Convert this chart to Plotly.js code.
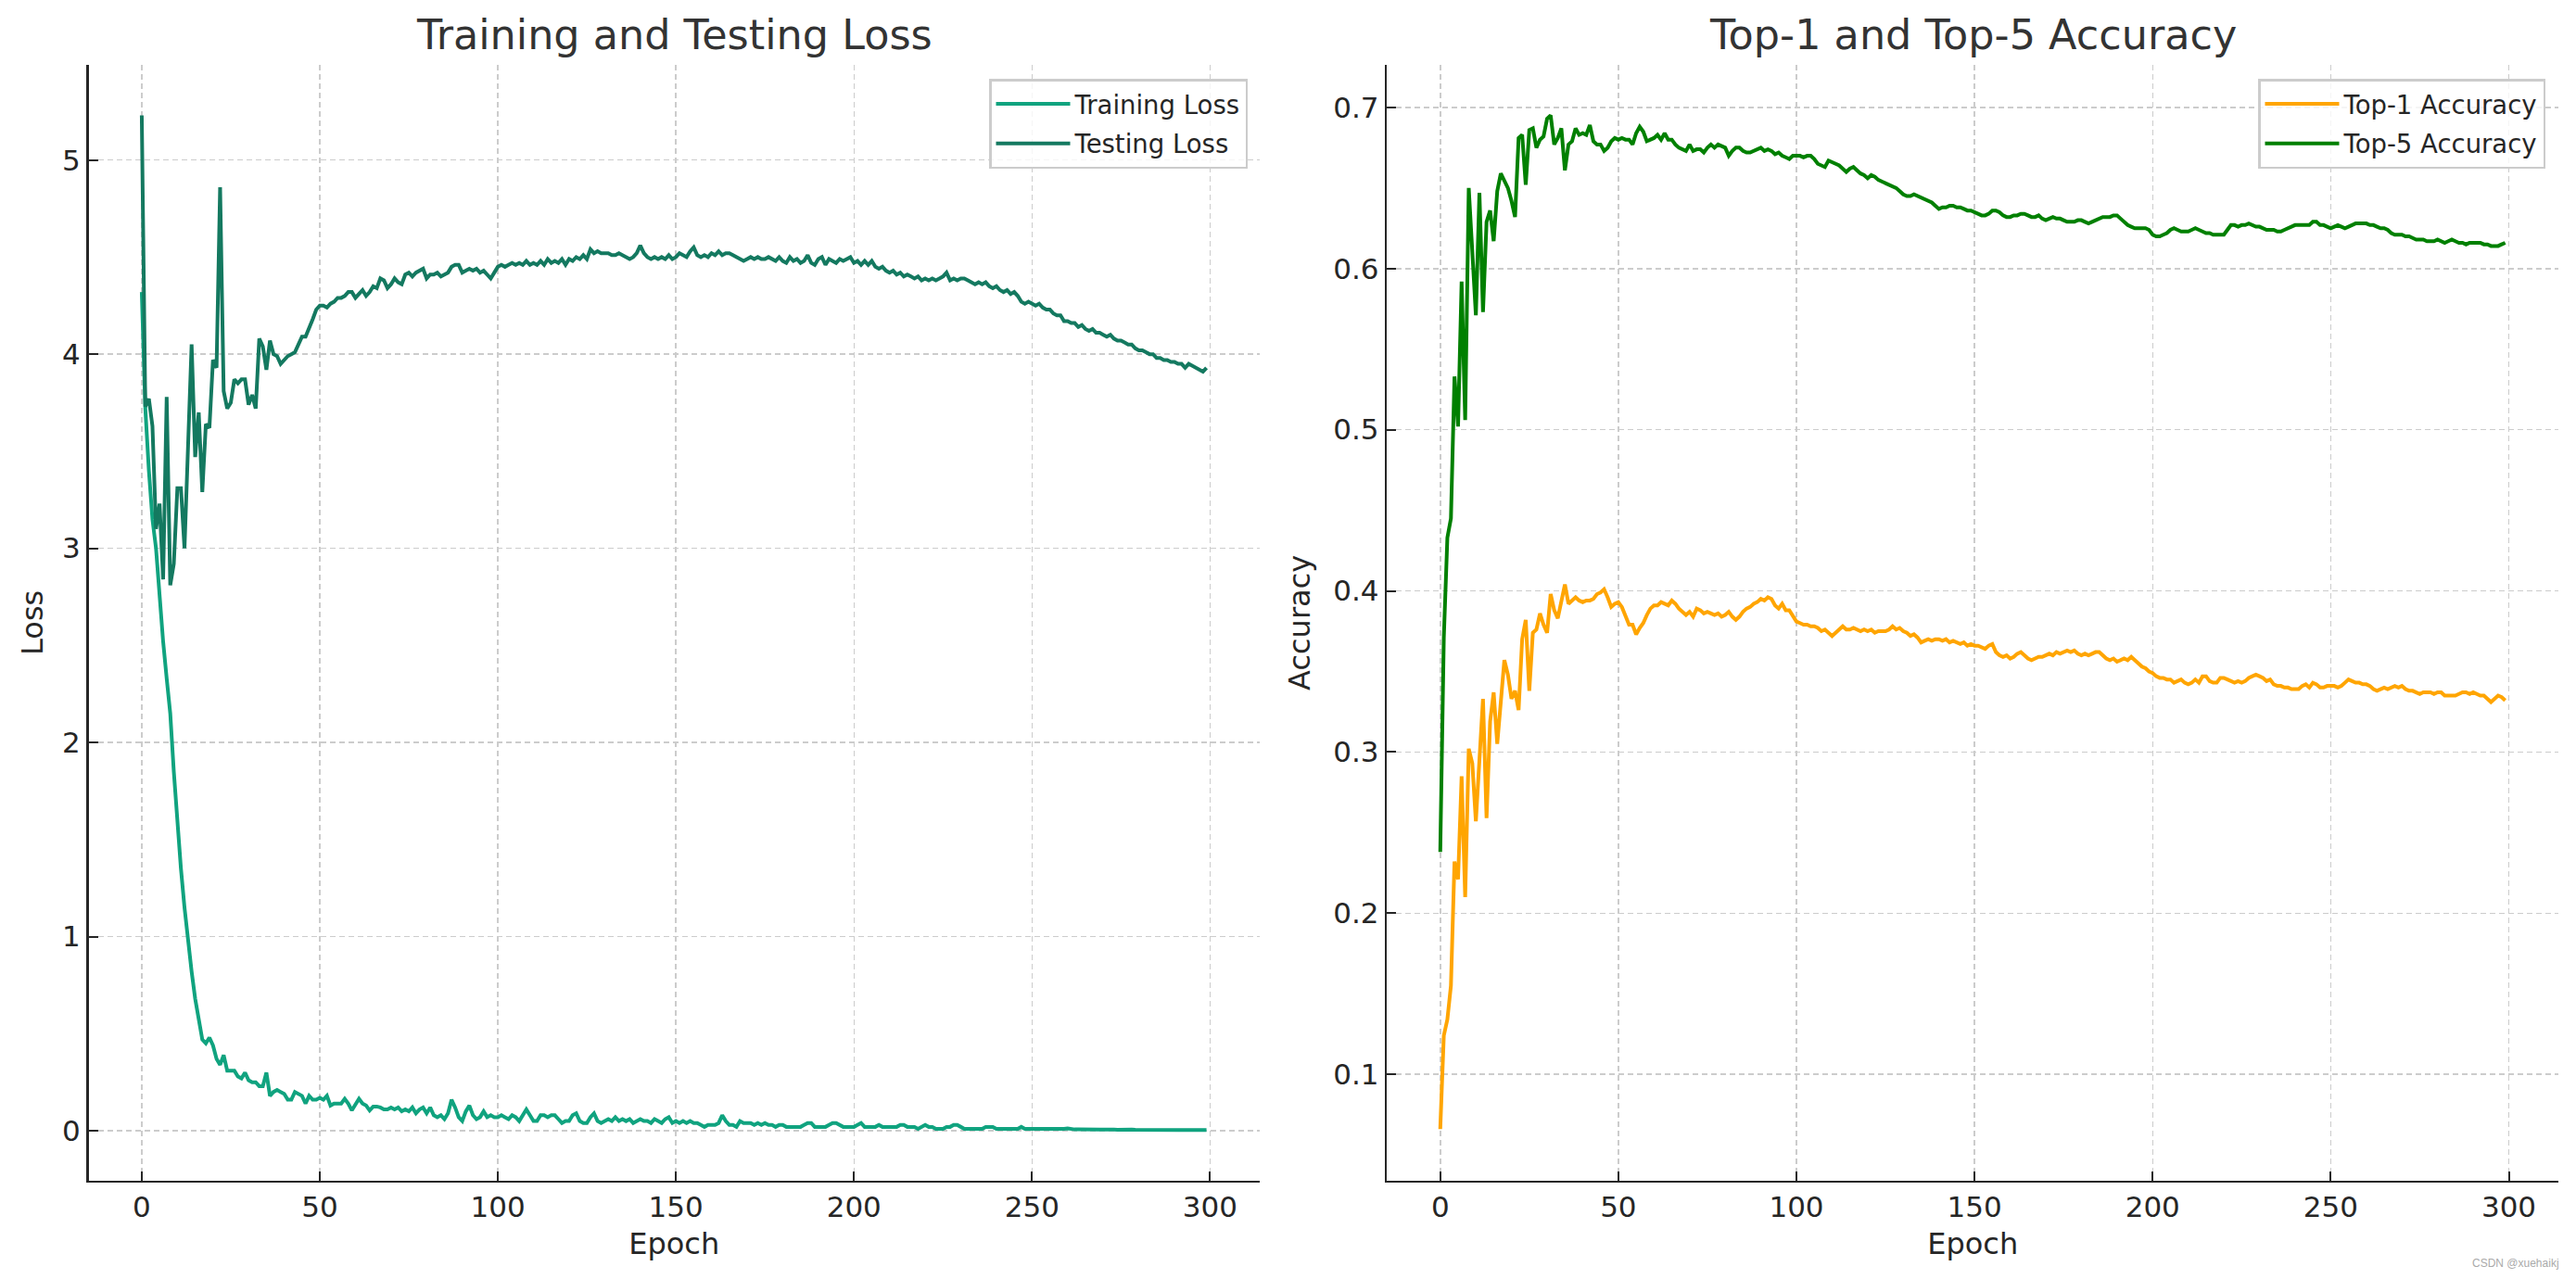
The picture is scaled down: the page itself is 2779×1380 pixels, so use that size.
<!DOCTYPE html>
<html>
<head>
<meta charset="utf-8">
<script src="https://cdn.plot.ly/plotly-3.0.1.min.js"></script>
<style>html,body{margin:0;padding:0;background:#fff;}</style>
</head>
<body>
<div id="chart" style="width:2779px;height:1380px;"></div>
<script>
// ---------------- DATA ----------------
const chartTitles = ["Training and Testing Loss", "Top-1 and Top-5 Accuracy"];
const seriesNames = ["Training Loss", "Testing Loss", "Top-1 Accuracy", "Top-5 Accuracy"];
const xTickVals = [0, 50, 100, 150, 200, 250, 300];
const lossTickVals = [0, 1, 2, 3, 4, 5];
const accTickVals = [0.1, 0.2, 0.3, 0.4, 0.5, 0.6, 0.7];

const trainingLoss = [
 4.32, 3.72, 3.40, 3.15, 3.00, 2.75, 2.52, 2.33, 2.15, 1.85,
 1.58, 1.35, 1.15, 0.97, 0.82, 0.68, 0.56, 0.47, 0.45, 0.48,
 0.44, 0.37, 0.34, 0.39, 0.31, 0.31, 0.31, 0.28, 0.27, 0.30,
 0.26, 0.25, 0.25, 0.23, 0.23, 0.30, 0.18, 0.20, 0.21, 0.20,
 0.19, 0.16, 0.16, 0.20, 0.19, 0.18, 0.14, 0.18, 0.16, 0.16,
 0.17, 0.16, 0.18, 0.13, 0.14, 0.14, 0.14, 0.165, 0.14, 0.105,
 0.135, 0.165, 0.14, 0.13, 0.105, 0.125, 0.125, 0.12, 0.11, 0.11,
 0.12, 0.11, 0.12, 0.10, 0.11, 0.10, 0.12, 0.09, 0.11, 0.12,
 0.09, 0.12, 0.08, 0.07, 0.08, 0.06, 0.09, 0.16, 0.12, 0.07,
 0.05, 0.10, 0.13, 0.08, 0.06, 0.07, 0.10, 0.07, 0.08, 0.07,
 0.07, 0.08, 0.07, 0.06, 0.08, 0.07, 0.05, 0.08, 0.11, 0.08,
 0.05, 0.05, 0.08, 0.08, 0.07, 0.08, 0.08, 0.06, 0.04, 0.05,
 0.05, 0.08, 0.09, 0.05, 0.04, 0.04, 0.07, 0.09, 0.05, 0.04,
 0.05, 0.06, 0.05, 0.07, 0.05, 0.06, 0.05, 0.06, 0.04, 0.05,
 0.06, 0.05, 0.05, 0.04, 0.06, 0.05, 0.04, 0.06, 0.07, 0.04,
 0.05, 0.04, 0.05, 0.04, 0.05, 0.04, 0.04, 0.03, 0.02, 0.03,
 0.03, 0.03, 0.04, 0.08, 0.05, 0.03, 0.03, 0.02, 0.05, 0.04,
 0.04, 0.04, 0.03, 0.04, 0.03, 0.04, 0.03, 0.03, 0.02, 0.03,
 0.03, 0.02, 0.02, 0.02, 0.02, 0.02, 0.03, 0.04, 0.04, 0.02,
 0.02, 0.02, 0.02, 0.03, 0.04, 0.04, 0.03, 0.02, 0.02, 0.02,
 0.02, 0.03, 0.04, 0.02, 0.02, 0.02, 0.02, 0.03, 0.02, 0.02,
 0.02, 0.02, 0.02, 0.03, 0.03, 0.02, 0.02, 0.02, 0.01, 0.02,
 0.03, 0.02, 0.02, 0.01, 0.01, 0.01, 0.02, 0.02, 0.03, 0.03,
 0.02, 0.01, 0.01, 0.01, 0.01, 0.01, 0.01, 0.02, 0.02, 0.02,
 0.01, 0.01, 0.01, 0.01, 0.01, 0.01, 0.01, 0.02, 0.01, 0.01,
 0.01, 0.008, 0.01, 0.008, 0.009, 0.008, 0.01, 0.008, 0.007, 0.01,
 0.012, 0.008, 0.007, 0.008, 0.007, 0.006, 0.007, 0.006, 0.007, 0.006,
 0.006, 0.007, 0.006, 0.006, 0.005, 0.006, 0.006, 0.005, 0.006, 0.005,
 0.005, 0.005, 0.006, 0.005, 0.005, 0.005, 0.005, 0.004, 0.005, 0.005,
 0.005, 0.004, 0.005, 0.004, 0.004, 0.005, 0.004, 0.004, 0.004, 0.004
];

const testingLoss = [
 5.23, 3.73, 3.77, 3.63, 3.10, 3.23, 2.84, 3.78, 2.81, 2.92,
 3.31, 3.31, 3.00, 3.60, 4.05, 3.47, 3.70, 3.29, 3.64, 3.62,
 3.97, 3.93, 4.86, 3.81, 3.72, 3.75, 3.87, 3.85, 3.87, 3.87,
 3.74, 3.79, 3.72, 4.08, 4.04, 3.92, 4.07, 4.00, 3.99, 3.95,
 3.97, 3.99, 4.00, 4.01, 4.05, 4.09, 4.09, 4.13, 4.18, 4.23,
 4.25, 4.25, 4.24, 4.26, 4.27, 4.29, 4.29, 4.30, 4.32, 4.32,
 4.29, 4.31, 4.33, 4.30, 4.32, 4.35, 4.34, 4.39, 4.38, 4.34,
 4.36, 4.39, 4.37, 4.36, 4.41, 4.42, 4.40, 4.42, 4.43, 4.44,
 4.39, 4.41, 4.41, 4.42, 4.40, 4.41, 4.42, 4.45, 4.46, 4.46,
 4.42, 4.43, 4.44, 4.43, 4.44, 4.42, 4.43, 4.41, 4.39, 4.42,
 4.45, 4.46, 4.45, 4.46, 4.47, 4.46, 4.47, 4.46, 4.48, 4.46,
 4.47, 4.46, 4.48, 4.46, 4.49, 4.47, 4.48, 4.47, 4.49, 4.46,
 4.49, 4.48, 4.50, 4.49, 4.51, 4.49, 4.54, 4.52, 4.53, 4.52,
 4.52, 4.52, 4.51, 4.51, 4.52, 4.51, 4.50, 4.49, 4.50, 4.52,
 4.56, 4.52, 4.50, 4.49, 4.50, 4.49, 4.50, 4.49, 4.51, 4.49,
 4.50, 4.52, 4.51, 4.50, 4.53, 4.55, 4.51, 4.50, 4.51, 4.50,
 4.52, 4.51, 4.53, 4.51, 4.52, 4.52, 4.51, 4.50, 4.49, 4.48,
 4.49, 4.50, 4.49, 4.50, 4.49, 4.49, 4.50, 4.49, 4.48, 4.50,
 4.48, 4.47, 4.50, 4.48, 4.49, 4.47, 4.48, 4.51, 4.47, 4.46,
 4.49, 4.50, 4.46, 4.49, 4.48, 4.47, 4.49, 4.48, 4.49, 4.50,
 4.47, 4.48, 4.46, 4.48, 4.46, 4.48, 4.45, 4.44, 4.45, 4.43,
 4.42, 4.43, 4.41, 4.42, 4.40, 4.41, 4.40, 4.39, 4.40, 4.38,
 4.39, 4.38, 4.39, 4.38, 4.39, 4.40, 4.42, 4.38, 4.39, 4.38,
 4.39, 4.39, 4.38, 4.37, 4.36, 4.37, 4.36, 4.37, 4.35, 4.34,
 4.35, 4.33, 4.32, 4.33, 4.31, 4.32, 4.30, 4.27, 4.26, 4.27,
 4.26, 4.25, 4.26, 4.24, 4.23, 4.23, 4.21, 4.20, 4.20, 4.17,
 4.17, 4.16, 4.16, 4.14, 4.15, 4.13, 4.12, 4.13, 4.11, 4.11,
 4.10, 4.09, 4.10, 4.08, 4.07, 4.07, 4.06, 4.05, 4.05, 4.03,
 4.02, 4.02, 4.01, 4.00, 4.00, 3.98, 3.98, 3.97, 3.97, 3.96,
 3.96, 3.95, 3.95, 3.93, 3.95, 3.94, 3.93, 3.92, 3.91, 3.93
];

const top1Accuracy = [
 0.066, 0.124, 0.134, 0.155, 0.232, 0.221, 0.285, 0.210, 0.302, 0.293,
 0.257, 0.296, 0.333, 0.259, 0.319, 0.337, 0.305, 0.331, 0.357, 0.348,
 0.333, 0.338, 0.326, 0.370, 0.382, 0.338, 0.374, 0.376, 0.386, 0.379,
 0.374, 0.398, 0.388, 0.383, 0.394, 0.404, 0.392, 0.394, 0.396, 0.394,
 0.393, 0.394, 0.394, 0.395, 0.398, 0.399, 0.401, 0.396, 0.390, 0.392,
 0.393, 0.390, 0.385, 0.379, 0.379, 0.373, 0.377, 0.380, 0.385, 0.389,
 0.391, 0.391, 0.393, 0.392, 0.391, 0.394, 0.392, 0.389, 0.387, 0.385,
 0.387, 0.384, 0.389, 0.388, 0.386, 0.387, 0.386, 0.385, 0.386, 0.384,
 0.385, 0.387, 0.384, 0.382, 0.384, 0.387, 0.389, 0.390, 0.392, 0.393,
 0.395, 0.394, 0.396, 0.395, 0.391, 0.389, 0.392, 0.388, 0.388, 0.384,
 0.381, 0.380, 0.379, 0.379, 0.378, 0.378, 0.377, 0.375, 0.376, 0.374,
 0.372, 0.374, 0.376, 0.378, 0.376, 0.376, 0.377, 0.376, 0.375, 0.376,
 0.375, 0.376, 0.374, 0.375, 0.375, 0.375, 0.376, 0.378, 0.376, 0.377,
 0.375, 0.374, 0.372, 0.373, 0.371, 0.368, 0.369, 0.370, 0.369, 0.370,
 0.370, 0.369, 0.370, 0.368, 0.369, 0.368, 0.367, 0.368, 0.366, 0.367,
 0.366, 0.366, 0.365, 0.364, 0.366, 0.367, 0.362, 0.360, 0.359, 0.360,
 0.358, 0.359, 0.361, 0.362, 0.360, 0.358, 0.357, 0.358, 0.359, 0.359,
 0.360, 0.361, 0.360, 0.362, 0.361, 0.362, 0.363, 0.362, 0.363, 0.361,
 0.360, 0.361, 0.360, 0.361, 0.362, 0.362, 0.360, 0.358, 0.357, 0.358,
 0.356, 0.357, 0.358, 0.357, 0.359, 0.357, 0.355, 0.353, 0.352, 0.350,
 0.349, 0.347, 0.346, 0.346, 0.345, 0.345, 0.343, 0.344, 0.345, 0.343,
 0.342, 0.343, 0.345, 0.343, 0.347, 0.347, 0.344, 0.343, 0.343, 0.346,
 0.346, 0.345, 0.344, 0.343, 0.344, 0.343, 0.344, 0.346, 0.347, 0.348,
 0.347, 0.346, 0.344, 0.345, 0.342, 0.341, 0.341, 0.340, 0.340, 0.339,
 0.339, 0.339, 0.341, 0.342, 0.340, 0.343, 0.342, 0.340, 0.340, 0.341,
 0.341, 0.341, 0.340, 0.341, 0.343, 0.345, 0.344, 0.343, 0.343, 0.342,
 0.342, 0.341, 0.339, 0.338, 0.339, 0.340, 0.339, 0.340, 0.341, 0.340,
 0.341, 0.339, 0.338, 0.338, 0.337, 0.336, 0.337, 0.337, 0.337, 0.336,
 0.337, 0.337, 0.335, 0.335, 0.335, 0.335, 0.336, 0.337, 0.337, 0.336,
 0.337, 0.336, 0.335, 0.335, 0.333, 0.331, 0.333, 0.335, 0.334, 0.332
];

const top5Accuracy = [
 0.238, 0.371, 0.433, 0.445, 0.533, 0.502, 0.592, 0.506, 0.650, 0.613,
 0.571, 0.647, 0.573, 0.629, 0.636, 0.617, 0.648, 0.659, 0.654, 0.650,
 0.642, 0.632, 0.681, 0.683, 0.652, 0.686, 0.687, 0.675, 0.680, 0.682,
 0.693, 0.695, 0.677, 0.681, 0.687, 0.661, 0.677, 0.679, 0.687, 0.683,
 0.684, 0.683, 0.689, 0.679, 0.677, 0.677, 0.673, 0.675, 0.679, 0.681,
 0.680, 0.681, 0.680, 0.680, 0.677, 0.684, 0.688, 0.685, 0.679, 0.680,
 0.681, 0.683, 0.680, 0.684, 0.680, 0.680, 0.677, 0.675, 0.674, 0.673,
 0.677, 0.673, 0.674, 0.674, 0.672, 0.675, 0.677, 0.675, 0.677, 0.676,
 0.675, 0.670, 0.673, 0.675, 0.675, 0.673, 0.672, 0.672, 0.673, 0.674,
 0.675, 0.673, 0.674, 0.673, 0.671, 0.672, 0.670, 0.669, 0.668, 0.670,
 0.670, 0.670, 0.669, 0.670, 0.670, 0.668, 0.665, 0.664, 0.663, 0.667,
 0.666, 0.665, 0.664, 0.662, 0.660, 0.662, 0.663, 0.661, 0.659, 0.658,
 0.656, 0.658, 0.657, 0.655, 0.654, 0.653, 0.652, 0.651, 0.650, 0.648,
 0.646, 0.645, 0.645, 0.646, 0.645, 0.644, 0.643, 0.642, 0.641, 0.639,
 0.637, 0.638, 0.638, 0.639, 0.639, 0.638, 0.638, 0.637, 0.636, 0.636,
 0.635, 0.634, 0.633, 0.633, 0.634, 0.636, 0.636, 0.635, 0.633, 0.632,
 0.632, 0.633, 0.633, 0.634, 0.634, 0.633, 0.632, 0.632, 0.633, 0.631,
 0.630, 0.631, 0.632, 0.631, 0.631, 0.630, 0.629, 0.629, 0.629, 0.630,
 0.630, 0.629, 0.628, 0.629, 0.630, 0.631, 0.632, 0.632, 0.632, 0.633,
 0.633, 0.631, 0.629, 0.627, 0.626, 0.625, 0.625, 0.625, 0.625, 0.624,
 0.621, 0.620, 0.620, 0.621, 0.622, 0.624, 0.625, 0.624, 0.623, 0.623,
 0.623, 0.624, 0.625, 0.624, 0.623, 0.622, 0.622, 0.621, 0.621, 0.621,
 0.621, 0.624, 0.627, 0.627, 0.626, 0.627, 0.627, 0.628, 0.627, 0.626,
 0.626, 0.625, 0.624, 0.624, 0.624, 0.623, 0.623, 0.624, 0.625, 0.626,
 0.627, 0.627, 0.627, 0.627, 0.627, 0.629, 0.629, 0.627, 0.627, 0.626,
 0.625, 0.626, 0.627, 0.626, 0.625, 0.626, 0.627, 0.628, 0.628, 0.628,
 0.628, 0.627, 0.627, 0.626, 0.625, 0.625, 0.624, 0.622, 0.621, 0.621,
 0.621, 0.620, 0.620, 0.619, 0.618, 0.618, 0.618, 0.617, 0.617, 0.617,
 0.618, 0.617, 0.616, 0.617, 0.618, 0.617, 0.616, 0.616, 0.615, 0.616,
 0.616, 0.616, 0.616, 0.615, 0.615, 0.614, 0.614, 0.614, 0.615, 0.616
];

const epochs = trainingLoss.map((_, i) => i);

// ---------------- STYLE / LAYOUT ----------------
const W = 2779, H = 1380;
const TXT = '#262626';
const FONT = 'DejaVu Sans';
const colors = ['#10A37F', '#147960', '#FFA500', '#008000'];
const LW = 4;

function axisBase() {
  return {
    showline: true, linecolor: TXT, linewidth: 2.5, mirror: false,
    ticks: 'inside', ticklen: 10, tickwidth: 2, tickcolor: TXT,
    showgrid: true, gridcolor: '#cccccc', gridwidth: 1.5, griddash: '6px,4px',
    zeroline: false, tickfont: {family: FONT, size: 31, color: TXT},
    automargin: false, fixedrange: true
  };
}

const plotTop = 70, plotBottom = 1273.7;
const yDom = [1 - plotBottom / H, 1 - plotTop / H];

const traces = [
  {x: epochs, y: trainingLoss, name: seriesNames[0], mode: 'lines', xaxis: 'x', yaxis: 'y',
   line: {color: colors[0], width: LW}, legend: 'legend', legendgroup: 'g1'},
  {x: epochs, y: testingLoss, name: seriesNames[1], mode: 'lines', xaxis: 'x', yaxis: 'y',
   line: {color: colors[1], width: LW}, legend: 'legend', legendgroup: 'g2'},
  {x: epochs, y: top1Accuracy, name: seriesNames[2], mode: 'lines', xaxis: 'x2', yaxis: 'y2',
   line: {color: colors[2], width: LW}, legend: 'legend2', legendgroup: 'g3'},
  {x: epochs, y: top5Accuracy, name: seriesNames[3], mode: 'lines', xaxis: 'x2', yaxis: 'y2',
   line: {color: colors[3], width: LW}, legend: 'legend2', legendgroup: 'g4'}
];

const legendBase = {
  bgcolor: 'rgba(255,255,255,0.8)', bordercolor: '#cccccc', borderwidth: 2.5,
  font: {family: FONT, size: 27.5, color: TXT}, itemwidth: 80, yanchor: 'top', xanchor: 'right',
  traceorder: 'grouped', tracegroupgap: 4
};

const layout = {
  width: W, height: H,
  margin: {l: 0, r: 0, t: 0, b: 0},
  paper_bgcolor: '#ffffff', plot_bgcolor: '#ffffff',
  font: {family: FONT, color: TXT},
  showlegend: true,
  xaxis: Object.assign(axisBase(), {
    domain: [95.5 / W, 1359 / W], range: [-14.95, 313.95], anchor: 'y',
    tickvals: xTickVals,
    title: {text: 'Epoch', font: {family: FONT, size: 32, color: TXT}, standoff: 11}
  }),
  yaxis: Object.assign(axisBase(), {
    domain: yDom, range: [-0.256, 5.49], anchor: 'x',
    tickvals: lossTickVals,
    title: {text: 'Loss', font: {family: FONT, size: 32, color: TXT}, standoff: 11}
  }),
  xaxis2: Object.assign(axisBase(), {
    domain: [1496.3 / W, 2760.1 / W], range: [-14.95, 313.95], anchor: 'y2',
    tickvals: xTickVals,
    title: {text: 'Epoch', font: {family: FONT, size: 32, color: TXT}, standoff: 11}
  }),
  yaxis2: Object.assign(axisBase(), {
    domain: yDom, range: [0.0341, 0.7264], anchor: 'x2',
    tickvals: accTickVals, tickformat: '.1f',
    title: {text: 'Accuracy', font: {family: FONT, size: 32, color: TXT}, standoff: 15}
  }),
  legend: Object.assign({}, legendBase, {x: 1346 / W, y: 1 - 85 / H}),
  legend2: Object.assign({}, legendBase, {x: 2746 / W, y: 1 - 85 / H}),
  annotations: [
    {text: chartTitles[0], xref: 'paper', yref: 'paper', x: 727 / W, y: 1 - 38 / H,
     xanchor: 'center', yanchor: 'middle', showarrow: false,
     font: {family: FONT, size: 44.5, color: '#333333'}},
    {text: chartTitles[1], xref: 'paper', yref: 'paper', x: 2128 / W, y: 1 - 38 / H,
     xanchor: 'center', yanchor: 'middle', showarrow: false,
     font: {family: FONT, size: 44.5, color: '#333333'}},
    {text: 'CSDN @xuehaikj', xref: 'paper', yref: 'paper', x: 2763 / W, y: 1 - 1362.7 / H,
     xanchor: 'right', yanchor: 'middle', showarrow: false,
     font: {family: 'Liberation Sans', size: 12, color: '#aaaaaa'}}
  ]
};

Plotly.newPlot('chart', traces, layout, {displayModeBar: false, staticPlot: true});
</script>
</body>
</html>
